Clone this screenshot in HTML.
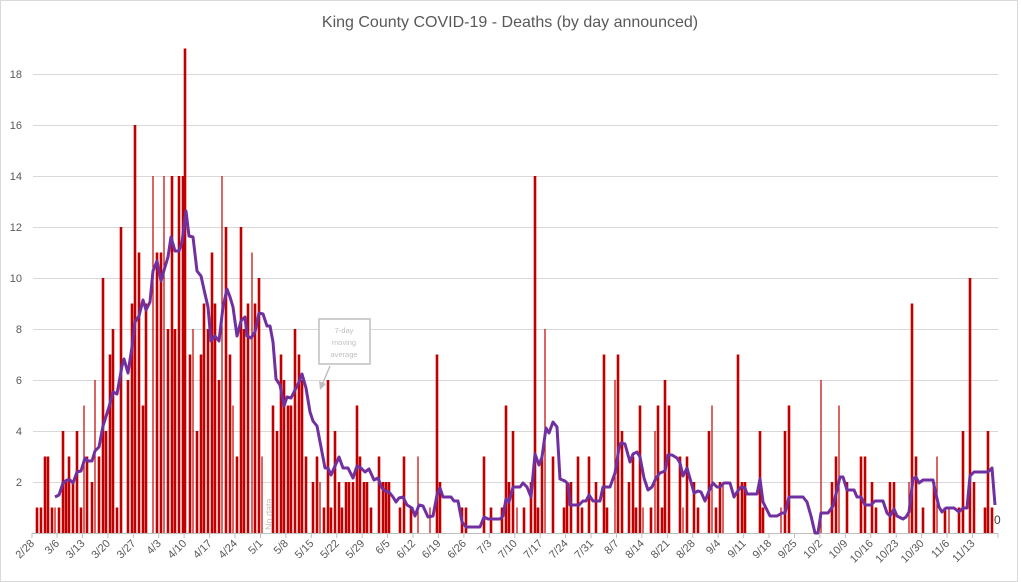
<!DOCTYPE html>
<html><head><meta charset="utf-8"><style>
html,body{margin:0;padding:0;background:#fff}
svg{display:block;font-family:"Liberation Sans",sans-serif}
</style></head><body>
<svg width="1021" height="582" viewBox="0 0 1021 582" xmlns="http://www.w3.org/2000/svg">
<rect x="0.5" y="0.5" width="1017" height="581" fill="#fff" stroke="#d9d9d9"/>
<text x="510" y="27" text-anchor="middle" font-size="16" fill="#595959">King County COVID-19 - Deaths (by day announced)</text>
<g stroke="#d9d9d9" stroke-width="1">
<line x1="33" x2="998" y1="482.5" y2="482.5"/><line x1="33" x2="998" y1="431.5" y2="431.5"/>
<line x1="33" x2="998" y1="380.5" y2="380.5"/><line x1="33" x2="998" y1="329.5" y2="329.5"/>
<line x1="33" x2="998" y1="278.5" y2="278.5"/><line x1="33" x2="998" y1="227.5" y2="227.5"/>
<line x1="33" x2="998" y1="176.5" y2="176.5"/><line x1="33" x2="998" y1="125.5" y2="125.5"/>
<line x1="33" x2="998" y1="74.5" y2="74.5"/>
</g>
<g font-size="11" fill="#595959" text-anchor="end">
<text x="22" y="486">2</text><text x="22" y="435">4</text><text x="22" y="384">6</text><text x="22" y="333">8</text>
<text x="22" y="282">10</text><text x="22" y="231">12</text><text x="22" y="180">14</text><text x="22" y="129">16</text><text x="22" y="78">18</text>
</g>
<g id="bars" fill="#c00000"></g>
<line x1="32" x2="998" y1="533.5" y2="533.5" stroke="#bfbfbf"/>
<g id="ticks" stroke="#bfbfbf"></g>
<g id="labels" font-size="11" fill="#595959"></g>
<polyline id="ma" fill="none" stroke="#7030a0" stroke-width="3" stroke-linejoin="round" points=""/>
<text x="272" y="530" transform="rotate(-90 272 530)" font-size="9" fill="#bfbfbf">No data</text>
<rect x="319" y="319" width="51" height="45" fill="#fff" stroke="#bfbfbf" stroke-width="1.5"/>
<g font-size="7.5" fill="#bfbfbf" text-anchor="middle"><text x="344" y="333">7-day</text><text x="344" y="345">moving</text><text x="344" y="357">average</text></g>
<line x1="330" y1="366" x2="322" y2="385" stroke="#bfbfbf" stroke-width="1.5"/>
<polygon points="320,390 319,381 326,384" fill="#bfbfbf"/>
<text x="994" y="524" font-size="12" fill="#404040">0</text>
</svg>
<script>
var B=[[37,1],[41,1],[45,3],[48,3],[52,1],[55,1,1],[59,1],[63,4],[66,2],[69,3],[73,2],[77,4],[81,1],[84,5,1],[87,3],[92,2],[95,6,1],[99,3],[103,10],[106,4],[110,7],[113,8],[117,1],[121,12],[128,6],[132,9],[135,16],[139,11],[143,5],[146,9],[153,14,1],[157,11],[161,11],[164,14,1],[168,8],[172,14],[175,8],[179,14],[183,14],[185,19],[190,7],[193,8,1],[197,4],[201,7],[204,9],[208,8],[212,11],[215,9],[219,6],[222,14,1],[226,12],[230,7],[233,5,1],[237,3],[241,12],[244,8],[248,9],[252,11,1],[255,9],[259,10],[262,3,1],
[273,5],[277,4],[281,7],[284,6],[288,5],[291,5],[295,8],[299,7],[302,6],[306,3],[313,2],[317,3],[320,2,1],[324,1],[328,6],[331,1],[335,4],[339,2],[342,1],[346,2],[349,2],[353,2],[357,5],[360,3],[364,2],[367,2],[371,1],[379,3],[383,2],[386,2],[389,2],[400,1],[404,3],[411,1],[418,3,1],[430,1,1],[437,7],[440,2],[462,1],[466,1],[484,3],[491,1],[502,1],[506,5],[509,2],[513,4],[517,1,1],[524,1],[531,2],[535,14],[538,1],[542,3],[545,8,1],[553,3],[564,1],[567,2],[571,2],[578,3],[582,1],[589,3],[596,2],[604,7],[607,1],[615,6,1],[618,7],[622,4],[629,2],[633,3],[636,1],[640,5],[643,1,1],[651,1],[655,4,1],[658,5],[662,1],[665,6],[669,5],[680,3],[683,1,1],[687,3],[694,2],[698,1],[709,4],[712,5,1],[716,1],[720,2],[723,2,1],[738,7],[742,2],[745,2],[760,4],[763,1],[781,1,1],[785,4],[789,5],[821,6,1],[832,2],[836,3],[839,5,1],[847,2],[861,3],[865,3],[872,2],[876,1],[890,2],[894,2],[909,2,1],[912,9],[916,3],[923,1],[934,2],[937,3,1],[945,1],[949,1,1],[959,1],[963,4],[970,10],[974,2],[985,1],[988,4],[992,1]];
var s='';B.forEach(function(b){var w=b[2]?1.2:2.6;var h=b[1]*25.5;s+='<rect x="'+(b[0]-w/2)+'" y="'+(533-h)+'" width="'+w+'" height="'+h+'"/>';});
document.getElementById('bars').innerHTML=s;
var L=['2/28','3/6','3/13','3/20','3/27','4/3','4/10','4/17','4/24','5/1','5/8','5/15','5/22','5/29','6/5','6/12','6/19','6/26','7/3','7/10','7/17','7/24','7/31','8/7','8/14','8/21','8/28','9/4','9/11','9/18','9/25','10/2','10/9','10/16','10/23','10/30','11/6','11/13'];
var t='',l='';L.forEach(function(d,i){var x=i==0?32:57+25.43*(i-1);t+='<line x1="'+x+'" x2="'+x+'" y1="533" y2="538"/>';l+='<text text-anchor="end" transform="translate('+(x+3)+',544) rotate(-45)">'+d+'</text>';});
t+='<line x1="998" x2="998" y1="533" y2="538"/>';
document.getElementById('ticks').innerHTML=t;document.getElementById('labels').innerHTML=l;
var P=[[55,497],[59,495],[63,483],[67,480],[70,480],[73,483],[77,472],[81,471],[85,458],[88,461],[92,461],[95,451],[99,447],[103,426],[109,407],[113,392],[117,394],[122,366],[124,359],[128,373],[132,347],[135,322],[139,316],[143,300],[146,310],[150,302],[153,271],[157,261],[161,281],[165,267],[168,257],[171,237],[175,251],[179,251],[182,242],[186,211],[189,236],[193,237],[197,271],[201,276],[205,294],[208,307],[211,341],[215,336],[219,341],[223,307],[227,289],[230,297],[233,307],[237,336],[241,321],[245,317],[247,336],[251,338],[255,332],[259,313],[263,314],[267,326],[270,326],[273,342],[276,379],[280,385],[284,406],[287,397],[291,398],[295,390],[299,382],[302,374],[306,388],[310,412],[313,421],[317,426],[321,447],[325,468],[328,468],[331,475],[339,457],[343,468],[348,468],[353,478],[357,466],[361,468],[365,472],[369,469],[374,480],[378,478],[382,488],[385,491],[389,492],[393,497],[396,502],[399,498],[403,497],[407,505],[412,508],[415,516],[419,505],[423,506],[428,517],[433,516],[437,495],[440,488],[443,497],[451,497],[454,501],[458,501],[462,522],[466,527],[480,527],[484,517],[488,519],[500,519],[503,516],[506,499],[509,502],[513,487],[520,487],[523,483],[527,487],[531,497],[535,454],[539,465],[542,457],[546,428],[549,433],[553,422],[557,427],[560,479],[565,481],[568,484],[570,505],[579,505],[583,501],[586,501],[589,495],[593,501],[600,501],[603,487],[610,487],[615,473],[619,448],[621,443],[625,444],[630,462],[633,454],[637,452],[640,457],[644,478],[648,490],[652,487],[656,478],[660,473],[665,471],[668,455],[672,455],[677,458],[680,463],[683,476],[687,468],[691,482],[694,493],[698,491],[701,492],[705,501],[709,491],[713,483],[717,487],[720,487],[724,483],[730,483],[734,497],[737,492],[741,487],[745,488],[747,494],[757,494],[760,479],[763,502],[770,516],[777,516],[782,513],[785,513],[789,497],[803,497],[807,502],[811,516],[815,533],[818,533],[821,513],[828,513],[833,506],[837,490],[840,477],[843,477],[847,490],[854,490],[857,497],[861,497],[865,505],[871,505],[875,501],[883,501],[887,513],[890,516],[894,509],[897,516],[903,519],[906,517],[909,512],[913,479],[916,477],[919,483],[923,480],[933,480],[935,490],[939,507],[942,512],[946,508],[954,508],[959,512],[963,508],[967,508],[970,476],[974,472],[988,472],[992,468],[995,505]];
document.getElementById('ma').setAttribute('points',P.map(function(p){return p.join(',')}).join(' '));
</script>
</body></html>
